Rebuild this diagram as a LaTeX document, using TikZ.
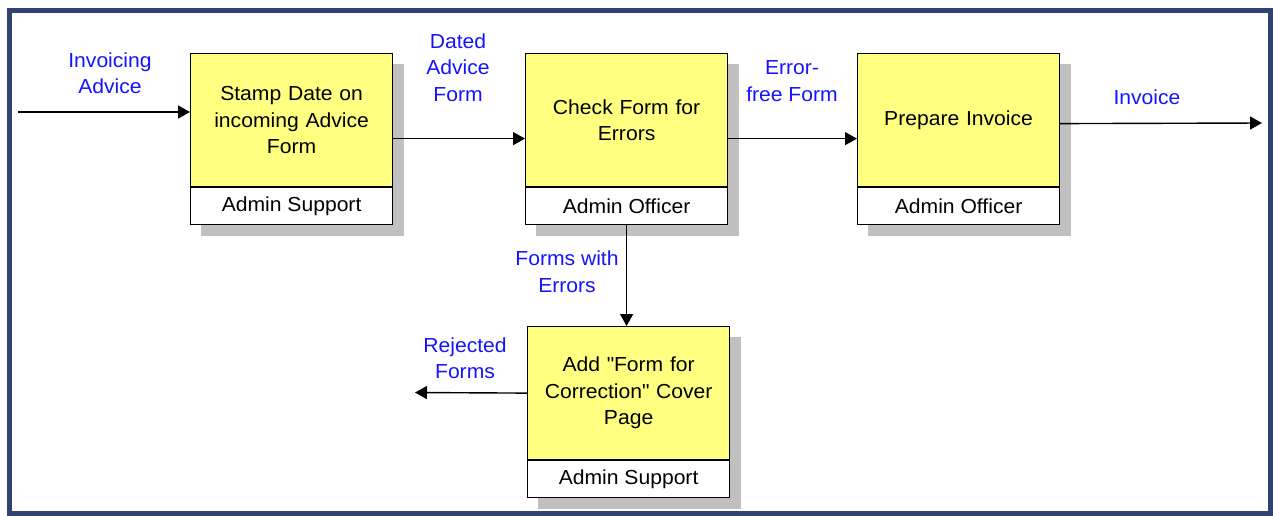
\documentclass[tikz,border=0pt]{standalone}
\usepackage{fontspec}
\setmainfont[FakeStretch=1.04]{Liberation Sans}
\usetikzlibrary{arrows.meta,backgrounds}
\definecolor{framecol}{RGB}{47,66,112}
\definecolor{taskyellow}{RGB}{255,255,128}
\definecolor{shadowgray}{RGB}{192,192,192}
\definecolor{flowblue}{RGB}{20,20,255}
\tikzset{
  base/.style={font=\fontsize{20.3}{26.5}\selectfont},
  task/.style={base, draw=black, line width=1.2pt, fill=taskyellow, anchor=north west,
    minimum width=202pt, minimum height=133pt, text width=196pt, align=center, inner sep=0pt},
  role/.style={base, draw=black, line width=1.2pt, fill=white, anchor=north west,
    minimum width=202pt, minimum height=37pt, inner sep=0pt},
  flow/.style={line width=1.4pt, -{Triangle[length=12pt,width=13pt]}},
  lbl/.style={base, text=flowblue, align=center, inner sep=0pt}
}
\begin{document}
\begin{tikzpicture}[x=1pt,y=-1pt]
\useasboundingbox (0,0) rectangle (1273,515);
\begin{pgfonlayer}{background}
  \fill[white] (0,0) rectangle (1273,515);
\end{pgfonlayer}
\draw[framecol, line width=4.7pt] (9.5,10.3) rectangle (1270.6,513.2);

% process steps: task (yellow) over role (white)
\node[task] (t1) at (190,53) {Stamp Date on\\incoming Advice\\Form};
\node[role] (r1) at (t1.south west) {Admin Support};
\node[task] (t2) at (525,53) {Check Form for\\Errors};
\node[role] (r2) at (t2.south west) {Admin Officer};
\node[task] (t3) at (857,53) {Prepare Invoice};
\node[role] (r3) at (t3.south west) {Admin Officer};
\node[task] (t4) at (527,326) {Add \textquotedbl Form for\\Correction\textquotedbl{} Cover\\Page};
\node[role] (r4) at (t4.south west) {Admin Support};

% drop shadows behind each step
\begin{pgfonlayer}{background}
  \foreach \t/\r in {t1/r1,t2/r2,t3/r3,t4/r4}
    \fill[shadowgray] ([shift={(11,10.5)}]\t.north west) rectangle ([shift={(11,10.5)}]\r.south east);
\end{pgfonlayer}

% free ends of the external flows
\coordinate (in) at (18,112);
\coordinate (out) at (1262,123);
\coordinate (rej) at (415,392.5);

% connectors
\draw[flow] (in) -- (in -| t1.west);
\draw[flow] ([yshift=-18.5pt]t1.east) -- ([yshift=-18.5pt]t2.west);
\draw[flow] ([yshift=-18.5pt]t2.east) -- ([yshift=-18.5pt]t3.west);
\draw[flow] ([yshift=-3.5pt]t3.east) -- (out);
\draw[flow] (r2.south) -- (r2.south |- t4.north);
\draw[flow] (t4.west) -- (rej);

% flow labels
\node[lbl] (l1) at (110,73) {Invoicing\\Advice};
\node[lbl] (l2) at (458,67.5) {Dated\\Advice\\Form};
\node[lbl] (l3) at (792,81) {Error-\\free Form};
\node[lbl] (l4) at (1147,97) {Invoice};
\node[lbl] (l5) at (567,271.5) {Forms with\\Errors};
\node[lbl] (l6) at (465,358) {Rejected\\Forms};
\end{tikzpicture}
\end{document}
